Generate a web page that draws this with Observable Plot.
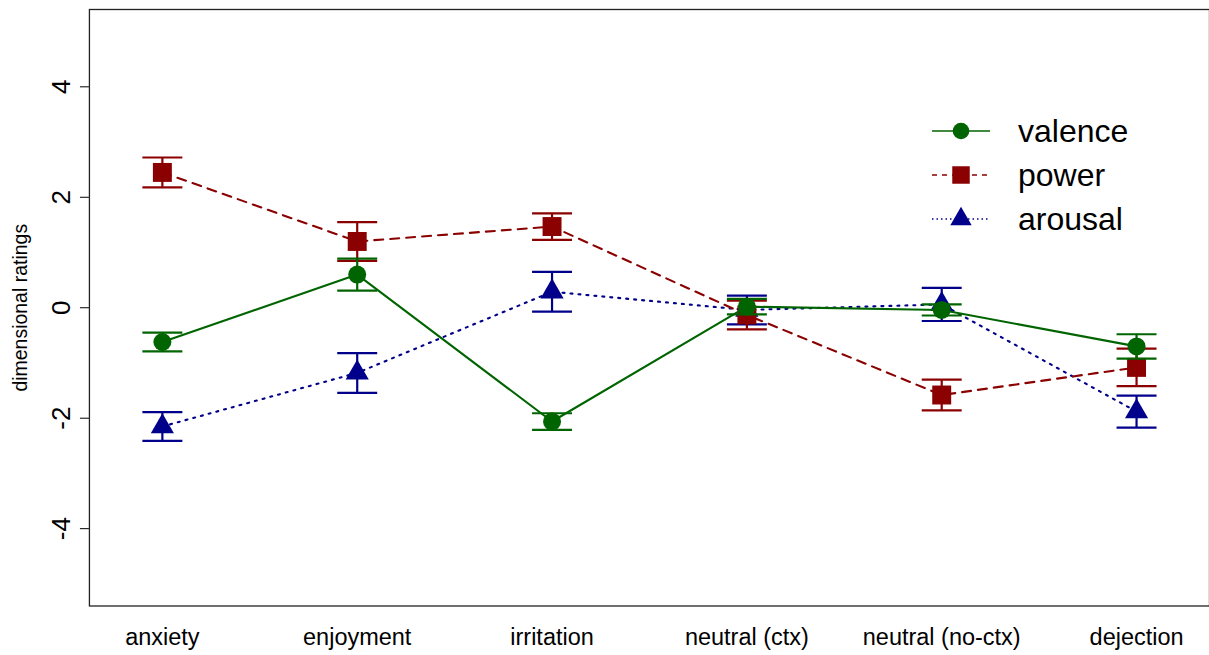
<!DOCTYPE html>
<html><head><meta charset="utf-8">
<script src="https://cdn.jsdelivr.net/npm/d3@7"></script>
<script src="https://cdn.jsdelivr.net/npm/@observablehq/plot@0.6"></script>
<style>
html,body{margin:0;padding:0;background:#fff;overflow:hidden}
#wrap{position:relative;width:1209px;height:655px;overflow:hidden}
#legend{position:absolute;left:0;top:0;pointer-events:none}
</style></head><body><div id="wrap"></div>
<script>
const categories = ["anxiety","enjoyment","irritation","neutral (ctx)","neutral (no-ctx)","dejection"];
const seriesNames = ["valence","power","arousal"];
const valence   = [-0.62, 0.60, -2.06, 0.02, -0.04, -0.70];
const valenceSE = [0.17, 0.29, 0.15, 0.14, 0.10, 0.22];
const power     = [2.45, 1.20, 1.47, -0.13, -1.58, -1.08];
const powerSE   = [0.27, 0.35, 0.24, 0.26, 0.28, 0.34];
const arousal   = [-2.15, -1.18, 0.29, -0.04, 0.06, -1.88];
const arousalSE = [0.26, 0.36, 0.36, 0.26, 0.30, 0.29];
const yTicks = [-4, -2, 0, 2, 4];
const yTitle = "dimensional ratings";

const colors = ["#006400", "#8B0000", "#00008B"];
const symbols = ["circle", "square", "triangle"];
const dashes = [undefined, "9,7", "2,6"];
const legendDashes = [undefined, "5,5", "1.5,3"];
const dotR = [9, 10.7, 8.6];

const seriesVals = {valence: [valence, valenceSE], power: [power, powerSE], arousal: [arousal, arousalSE]};
const rows = [];
seriesNames.forEach(s => categories.forEach((c, i) =>
  rows.push({series: s, cat: c, mean: seriesVals[s][0][i], se: seriesVals[s][1][i]})));

// horizontal cap symbol for error bars
const capSymbol = {draw(ctx, size) { const w = 20; ctx.moveTo(-w, 0); ctx.lineTo(w, 0); }};

const font = "'Liberation Sans', Arial, Helvetica, sans-serif";
const marks = [Plot.frame({stroke: "#222", strokeWidth: 1.3})];
["arousal", "power", "valence"].forEach(s => {
  const k = seriesNames.indexOf(s);
  const d = rows.filter(r => r.series === s);
  const col = colors[k];
  marks.push(Plot.line(d, {x: "cat", y: "mean", stroke: col, strokeWidth: 2.1, strokeDasharray: dashes[k], strokeLinecap: "round"}));
  marks.push(Plot.ruleX(d, {x: "cat", y1: r => r.mean - r.se, y2: r => r.mean + r.se, stroke: col, strokeWidth: 2.2}));
  marks.push(Plot.dot(d, {x: "cat", y: r => r.mean - r.se, symbol: capSymbol, stroke: col, strokeWidth: 2.2, fill: "none"}));
  marks.push(Plot.dot(d, {x: "cat", y: r => r.mean + r.se, symbol: capSymbol, stroke: col, strokeWidth: 2.2, fill: "none"}));
  marks.push(Plot.dot(d, {x: "cat", y: "mean", symbol: symbols[k], r: dotR[k], fill: col, stroke: "none"}));
});
marks.push(Plot.axisY({ticks: yTicks, tickSize: 9, tickRotate: -90, tickPadding: 10, fontSize: 26, label: null, tickFormat: d => String(d)}));
marks.push(Plot.axisX({tickSize: 0, tickPadding: 22, fontSize: 23.5, label: null}));
marks.push(Plot.text([yTitle], {text: d => d, frameAnchor: "left", dx: -69, rotate: -90, textAnchor: "middle", lineAnchor: "middle", fontSize: 19.5}));

const chart = Plot.plot({
  width: 1210, height: 655,
  marginLeft: 89, marginRight: 0, marginTop: 9, marginBottom: 49,
  style: {fontFamily: font, color: "#000", background: "#fff"},
  x: {type: "point", domain: categories, padding: 0.3744, round: false, axis: null},
  y: {domain: [-5.4, 5.4], axis: null},
  marks
});
const wrap = document.getElementById("wrap");
wrap.appendChild(chart);

// legend (inside plot area, top right)
const leg = d3.select(wrap).append("svg").attr("id", "legend").attr("width", 1209).attr("height", 655);
seriesNames.forEach((s, i) => {
  const g = leg.append("g").attr("transform", `translate(932,${131 + 44 * i})`);
  g.append("line").attr("x1", 0).attr("x2", 58).attr("y1", 0).attr("y2", 0)
    .attr("stroke", colors[i]).attr("stroke-width", 1.4).attr("stroke-dasharray", legendDashes[i] || null);
  const sym = {circle: d3.symbolCircle, square: d3.symbolSquare, triangle: d3.symbolTriangle}[symbols[i]];
  g.append("path").attr("transform", "translate(29,0)").attr("d", d3.symbol(sym, Math.PI * dotR[i] * dotR[i] * 0.85)())
    .attr("fill", colors[i]);
  g.append("text").attr("x", 86).attr("y", 0).attr("dy", "0.35em").attr("font-size", 32)
    .attr("font-family", font).attr("fill", "#000").text(s);
});
</script></body></html>
